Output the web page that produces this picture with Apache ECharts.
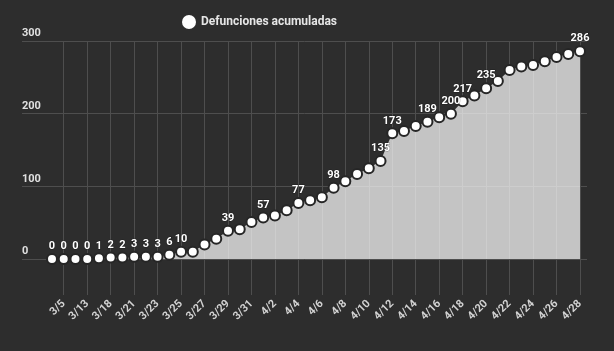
<!DOCTYPE html>
<html>
<head>
<meta charset="utf-8">
<script src="https://cdn.jsdelivr.net/npm/echarts@6/dist/echarts.min.js"></script>
<style>
  html, body { margin: 0; padding: 0; background: #2d2d2d; }
  #chart { width: 614px; height: 351px; }
</style>
</head>
<body>
<div id="chart"></div>
<script>
// fechas (eje x), sólo se rotulan las posiciones impares
const dates = [
  "3/4", "3/5", "3/12", "3/13", "3/17", "3/18", "3/20", "3/21", "3/22", "3/23",
  "3/24", "3/25", "3/26", "3/27", "3/28", "3/29", "3/30", "3/31", "4/1", "4/2",
  "4/3", "4/4", "4/5", "4/6", "4/7", "4/8", "4/9", "4/10", "4/11", "4/12",
  "4/13", "4/14", "4/15", "4/16", "4/17", "4/18", "4/19", "4/20", "4/21", "4/22",
  "4/23", "4/24", "4/25", "4/26", "4/27", "4/28"
];

// defunciones acumuladas
const deaths = [
  0, 0, 0, 0, 1, 2, 2, 3, 3, 3,
  6, 10, 10, 20, 28, 39, 41, 51, 57, 60,
  67, 77, 81, 85, 98, 107, 117, 125, 135, 173,
  176, 183, 189, 195, 200, 217, 225, 235, 245, 260,
  265, 267, 272, 278, 282, 286
];

// puntos con etiqueta visible
const labeledIdx = [0, 1, 2, 3, 4, 5, 6, 7, 8, 9, 10, 11, 15, 18, 21, 24, 28, 29, 32, 34, 35, 37, 45];

const yMin = 0;
const yMax = 300;
const yStep = 100;

const bg = "#2d2d2d";
const gridColor = "#4e4e4e";
const font = "Roboto, sans-serif";
const oddOnly = (i) => i % 2 === 1;

const chart = echarts.init(document.getElementById("chart"));
chart.setOption({
  backgroundColor: bg,
  animation: false,
  legend: {
    left: 177,
    top: 10,
    icon: "circle",
    itemWidth: 14,
    itemHeight: 14,
    itemGap: 6,
    itemStyle: { borderWidth: 0 },
    textStyle: {
      color: "#e6e6e6",
      fontSize: 12,
      fontWeight: "bold",
      fontFamily: font,
    },
    data: ["Defunciones acumuladas"],
  },
  grid: [
    { left: 22, right: 27, top: 41, bottom: 92 },
    { left: 52, right: 34, top: 41, bottom: 92 },
  ],
  xAxis: [
    { gridIndex: 0, type: "value", show: false, min: 0, max: 1 },
    {
      gridIndex: 1,
      type: "category",
      data: dates,
      boundaryGap: false,
      axisLine: { show: false },
      axisTick: {
        show: true,
        interval: oddOnly,
        length: 36,
        lineStyle: { color: gridColor },
      },
      splitLine: {
        show: true,
        interval: oddOnly,
        lineStyle: { color: gridColor },
      },
      axisLabel: {
        interval: oddOnly,
        rotate: 45,
        margin: 43,
        color: "#d2d2d2",
        fontSize: 11,
        fontWeight: "bold",
        fontFamily: font,
      },
    },
  ],
  yAxis: [
    {
      gridIndex: 0,
      type: "value",
      min: yMin,
      max: yMax,
      interval: yStep,
      axisLine: { show: false },
      axisTick: { show: false },
      splitLine: { lineStyle: { color: gridColor } },
      axisLabel: {
        inside: true,
        margin: 0,
        verticalAlign: "bottom",
        padding: [0, 0, 2, 0],
        color: "#e0e0e0",
        fontSize: 11,
        fontWeight: "bold",
        fontFamily: font,
      },
    },
    { gridIndex: 1, type: "value", min: yMin, max: yMax, show: false },
  ],
  series: [
    {
      name: "Defunciones acumuladas",
      type: "line",
      xAxisIndex: 1,
      yAxisIndex: 1,
      symbol: "circle",
      symbolSize: 10,
      showAllSymbol: true,
      itemStyle: { color: "#ffffff", borderColor: "#262626", borderWidth: 2 },
      lineStyle: { width: 0 },
      areaStyle: { color: "#ffffff", opacity: 0.72 },
      label: {
        show: false,
        position: "top",
        distance: 1,
        color: "#ffffff",
        fontSize: 11,
        fontWeight: "bold",
        fontFamily: font,
        textBorderColor: "rgba(0,0,0,0.35)",
        textBorderWidth: 1,
      },
      data: deaths.map((v, i) => ({
        value: v,
        label: { show: labeledIdx.includes(i) },
      })),
    },
  ],
});
</script>
</body>
</html>
